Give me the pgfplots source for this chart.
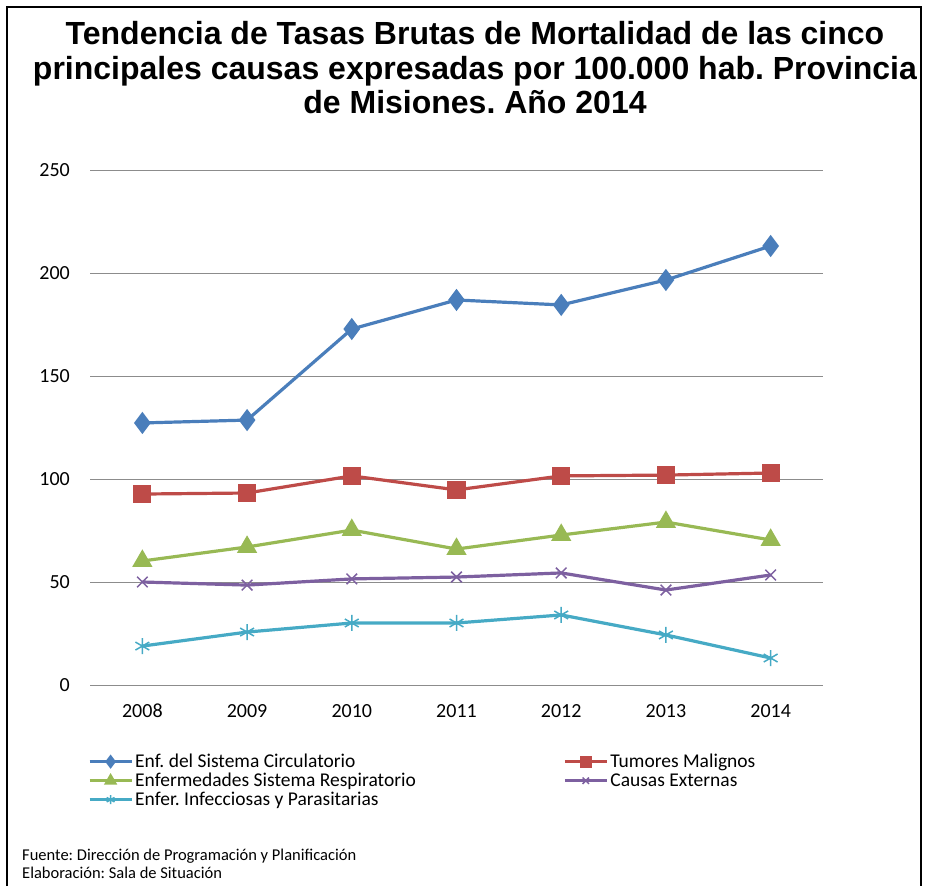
\documentclass[border=0pt]{standalone}
\usepackage{fontspec}
\setmainfont{Carlito}
\newfontfamily\titlefont{Liberation Sans}
\usepackage{pgfplots}
\pgfplotsset{compat=1.18}
\definecolor{cblue}{HTML}{4A7EBB}
\definecolor{cred}{HTML}{BE4B48}
\definecolor{cgreen}{HTML}{98B954}
\definecolor{cpurple}{HTML}{7D60A0}
\definecolor{ccyan}{HTML}{46AAC5}
\definecolor{cgrid}{HTML}{8C8C8C}
\frenchspacing
\begin{document}
\begin{tikzpicture}
\path[use as bounding box] (0pt,0pt) rectangle (925pt,886pt);
\draw[line width=2.5pt] (7pt,0pt) -- (7pt,879pt) -- (921pt,879pt) -- (921pt,0pt);
\node[font=\titlefont\bfseries\fontsize{32}{34.5}\selectfont, align=center] at (475pt,818pt)
{Tendencia de Tasas Brutas de Mortalidad de las cinco\\principales causas expresadas por 100.000 hab. Provincia\\de Misiones. Año 2014};
\begin{axis}[
  at={(90pt,201pt)}, anchor=south west, scale only axis,
  width=733pt, height=515pt,
  xmin=-0.5, xmax=6.5, ymin=0, ymax=250,
  ytick={0,50,100,150,200,250},
  xtick={0,1,2,3,4,5,6},
  xticklabels={2008,2009,2010,2011,2012,2013,2014},
  ymajorgrids, grid style={cgrid, line width=0.8pt},
  axis lines*=left,
  y axis line style={draw=none},
  x axis line style={draw=cgrid, line width=0.8pt, -},
  tick style={draw=none},
  /pgf/number format/assume math mode=true,
  tick label style={font=\fontsize{20}{22}\selectfont},
  yticklabel style={inner sep=0pt, anchor=east, xshift=-20pt},
  xticklabel style={inner sep=0pt, anchor=north, yshift=-19pt},
  legend columns=2,
  legend style={at={(-0.003,-0.13)}, anchor=north west, draw=none, fill=none,
    font=\fontsize{19.5}{20}\selectfont, row sep=0pt,
    cells={anchor=west, inner sep=1pt}, inner sep=0pt},
  legend cell align=left,
  legend image code/.code={\draw[mark repeat=2,mark phase=2,mark size=4.5pt] plot coordinates {(0pt,0pt) (21pt,0pt) (42pt,0pt)};},
  every axis plot/.append style={line width=3.2pt},
]
\addplot[cblue, mark=diamond*, mark size=8.5pt, mark options={solid}] coordinates {
(0,127.2) (1,128.6) (2,172.8) (3,186.9) (4,184.5) (5,196.6) (6,213.1)};
\addlegendentry{\makebox[426pt][l]{Enf. del Sistema Circulatorio}}
\addplot[cred, mark=square*, mark size=7.5pt] coordinates {
(0,92.7) (1,93.2) (2,101.5) (3,94.7) (4,101.5) (5,101.9) (6,102.9)};
\addlegendentry{Tumores Malignos}
\addplot[cgreen, mark=triangle*, mark size=8.5pt] coordinates {
(0,60.2) (1,67.0) (2,75.2) (3,66.0) (4,72.8) (5,79.1) (6,70.4)};
\addlegendentry{Enfermedades Sistema Respiratorio}
\addplot[cpurple, mark=x, mark size=7.5pt, mark options={line width=1.5pt}] coordinates {
(0,50.0) (1,48.5) (2,51.5) (3,52.4) (4,54.4) (5,46.1) (6,53.4)};
\addlegendentry{Causas Externas}
\addplot[ccyan, mark=asterisk, mark size=8pt, mark options={line width=1.5pt}] coordinates {
(0,18.9) (1,25.7) (2,30.1) (3,30.1) (4,34.0) (5,24.3) (6,13.1)};
\addlegendentry{Enfer. Infecciosas y Parasitarias}
\end{axis}
\node[anchor=west, font=\fontsize{16.5}{18}\selectfont, inner sep=0pt] at (22pt,30pt) {Fuente: Dirección de Programación y Planificación};
\node[anchor=west, font=\fontsize{16.5}{18}\selectfont, inner sep=0pt] at (22pt,13pt) {Elaboración: Sala de Situación};
\end{tikzpicture}
\end{document}
